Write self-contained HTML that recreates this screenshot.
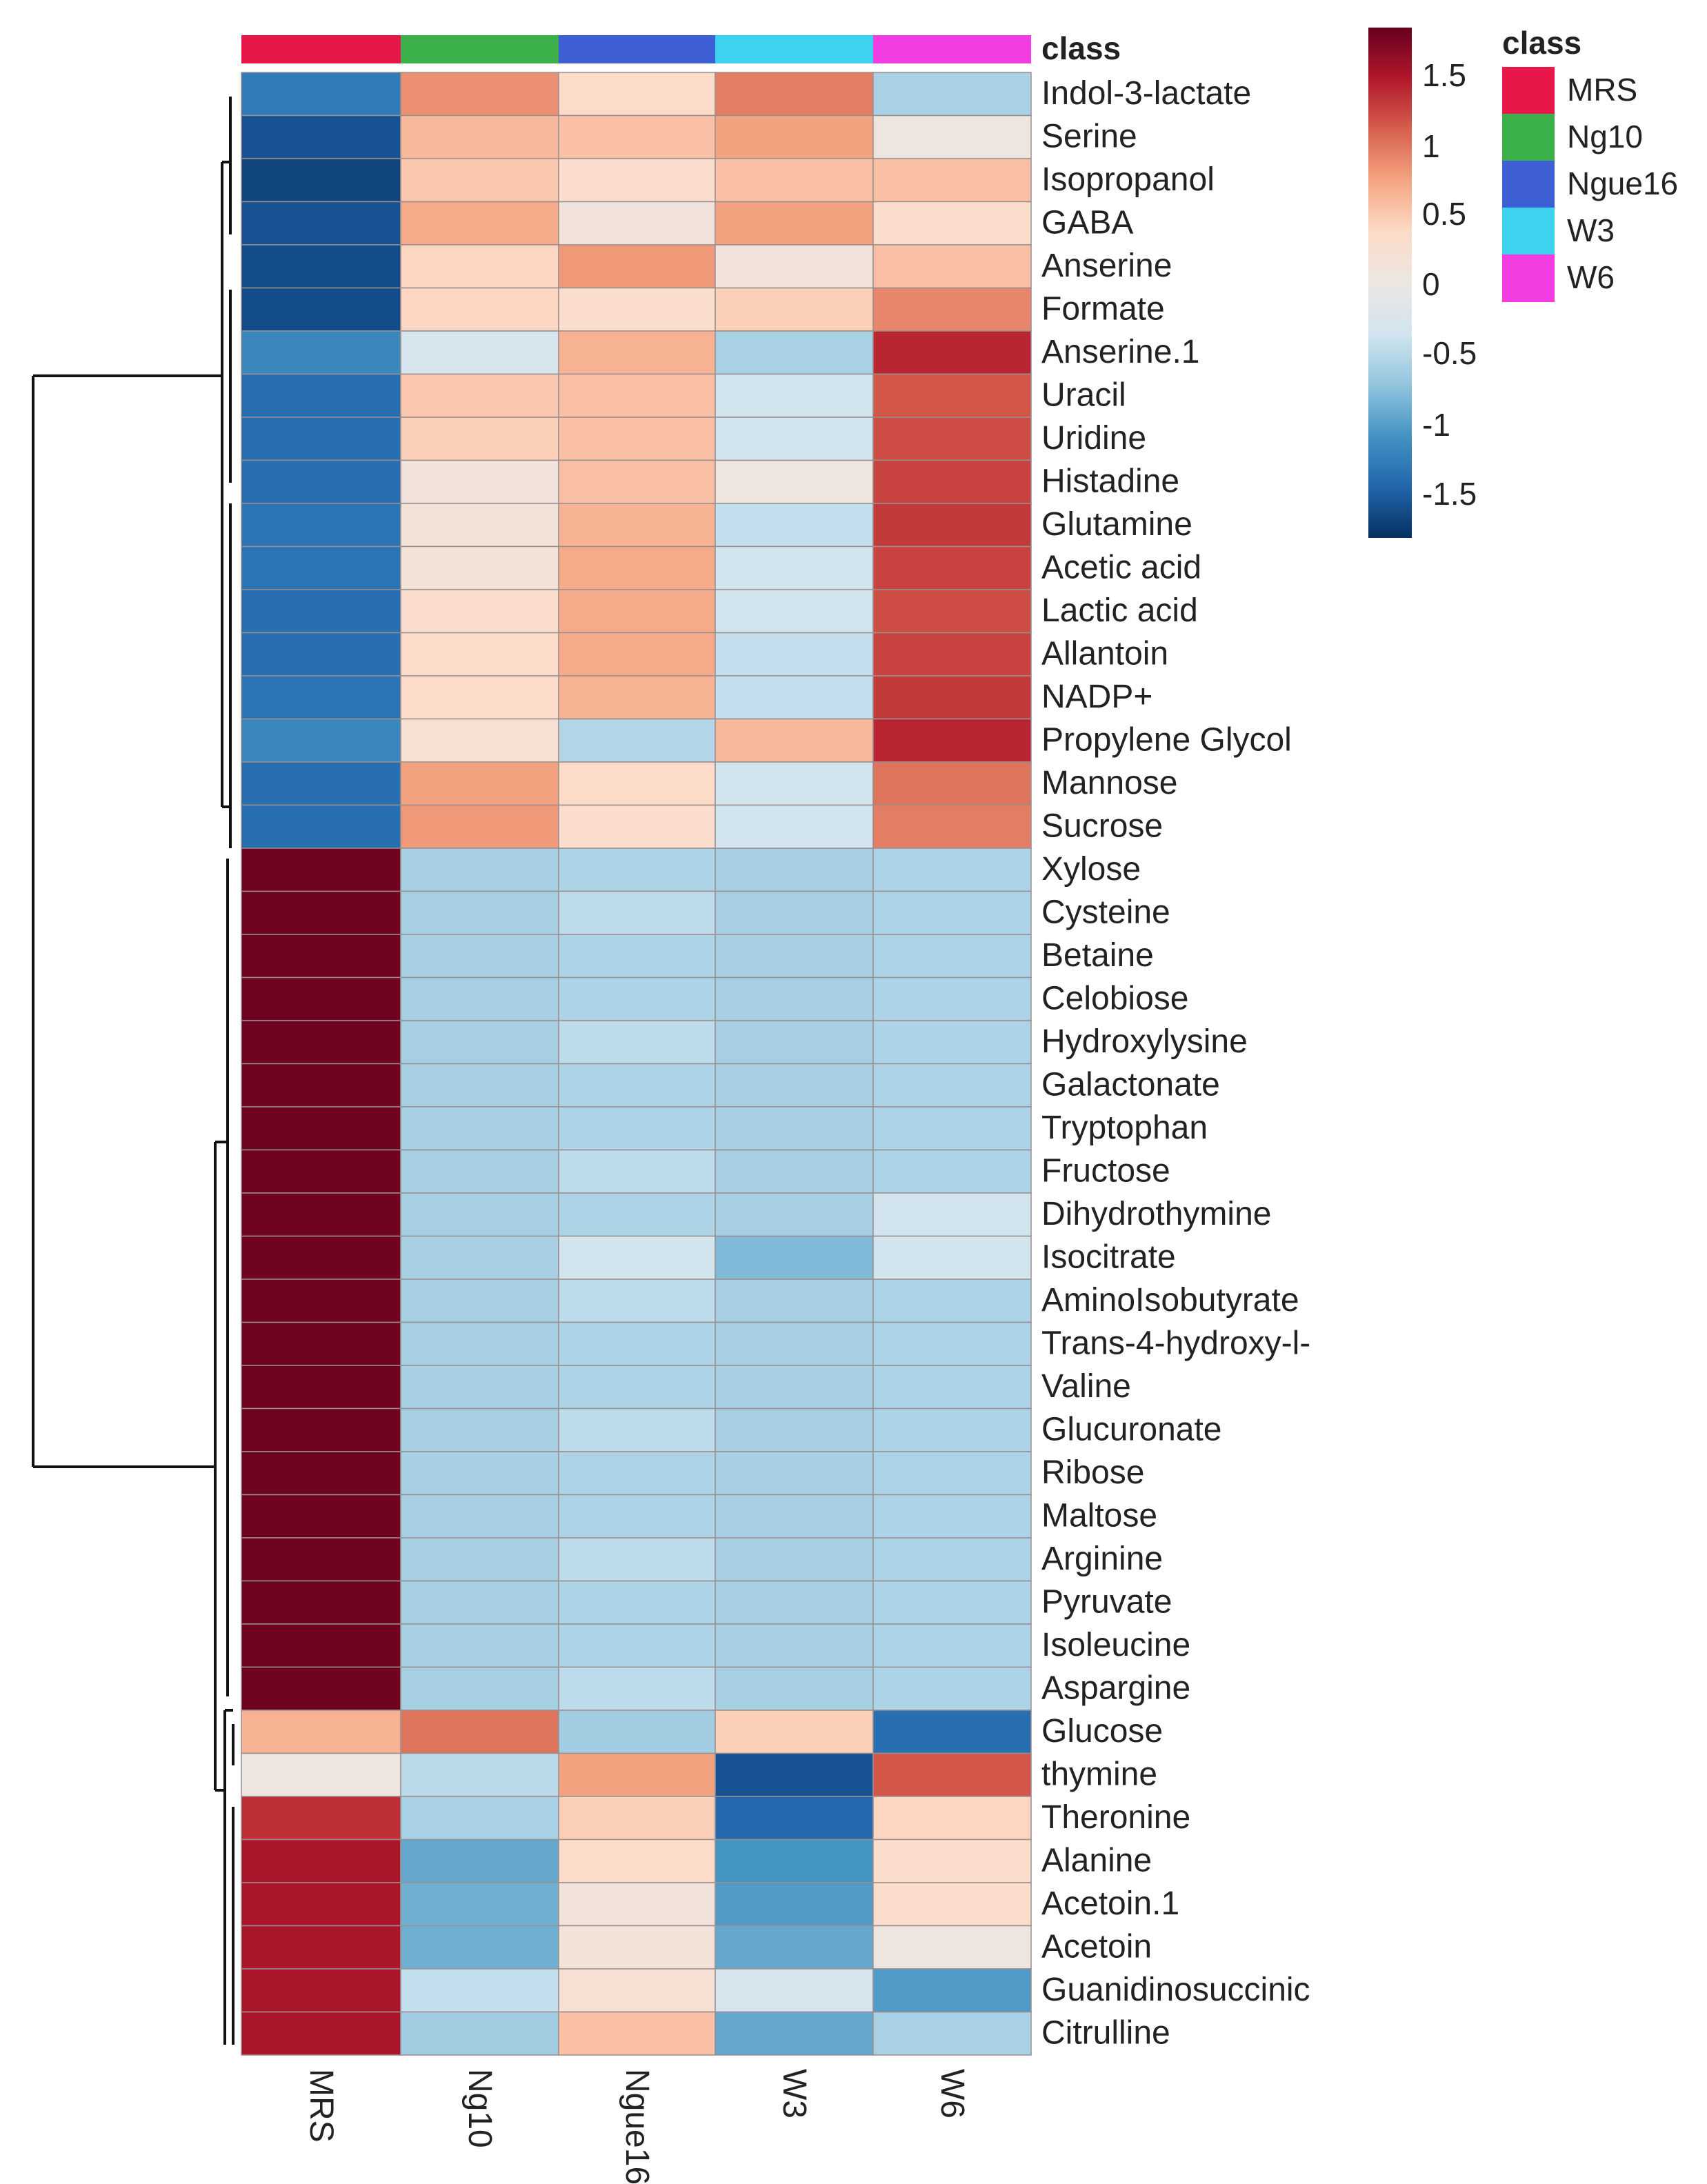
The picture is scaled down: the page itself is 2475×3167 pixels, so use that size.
<!DOCTYPE html>
<html><head><meta charset="utf-8"><style>
html,body{margin:0;padding:0;background:#fff;}
svg{display:block;font-family:"Liberation Sans",sans-serif;}
.rl{font-size:48px;fill:#222;}
</style></head><body>
<svg id="s" width="2475" height="3167" viewBox="0 0 2475 3167">
<defs>
<linearGradient id="cb" x1="0" y1="1" x2="0" y2="0">
<stop offset="0" stop-color="#053061"/><stop offset="0.1" stop-color="#2166ac"/><stop offset="0.2" stop-color="#4393c3"/><stop offset="0.3" stop-color="#92c5de"/><stop offset="0.4" stop-color="#d1e5f0"/><stop offset="0.5" stop-color="#ece6e2"/><stop offset="0.6" stop-color="#fddbc7"/><stop offset="0.7" stop-color="#f4a582"/><stop offset="0.8" stop-color="#d6604d"/><stop offset="0.9" stop-color="#b2182b"/><stop offset="1" stop-color="#67001f"/>
</linearGradient>
</defs>
<rect x="350" y="51" width="231" height="41" fill="#e8174a"/>
<rect x="581" y="51" width="229" height="41" fill="#3cb04a"/>
<rect x="810" y="51" width="227" height="41" fill="#3f5fd4"/>
<rect x="1037" y="51" width="229" height="41" fill="#3dd3f0"/>
<rect x="1266" y="51" width="229" height="41" fill="#f03ce0"/>
<text x="1510" y="86" font-size="46" font-weight="bold" fill="#222">class</text>
<g id="cells"></g>
<g class="rl">
<text x="1510" y="151">Indol-3-lactate</text>
<text x="1510" y="213.5">Serine</text>
<text x="1510" y="276">Isopropanol</text>
<text x="1510" y="338.5">GABA</text>
<text x="1510" y="401">Anserine</text>
<text x="1510" y="463.5">Formate</text>
<text x="1510" y="526">Anserine.1</text>
<text x="1510" y="588.5">Uracil</text>
<text x="1510" y="651">Uridine</text>
<text x="1510" y="713.5">Histadine</text>
<text x="1510" y="776">Glutamine</text>
<text x="1510" y="838.5">Acetic acid</text>
<text x="1510" y="901">Lactic acid</text>
<text x="1510" y="963.5">Allantoin</text>
<text x="1510" y="1026">NADP+</text>
<text x="1510" y="1088.5">Propylene Glycol</text>
<text x="1510" y="1151">Mannose</text>
<text x="1510" y="1213.5">Sucrose</text>
<text x="1510" y="1276">Xylose</text>
<text x="1510" y="1338.5">Cysteine</text>
<text x="1510" y="1401">Betaine</text>
<text x="1510" y="1463.5">Celobiose</text>
<text x="1510" y="1526">Hydroxylysine</text>
<text x="1510" y="1588.5">Galactonate</text>
<text x="1510" y="1651">Tryptophan</text>
<text x="1510" y="1713.5">Fructose</text>
<text x="1510" y="1776">Dihydrothymine</text>
<text x="1510" y="1838.5">Isocitrate</text>
<text x="1510" y="1901">AminoIsobutyrate</text>
<text x="1510" y="1963.5">Trans-4-hydroxy-l-</text>
<text x="1510" y="2026">Valine</text>
<text x="1510" y="2088.5">Glucuronate</text>
<text x="1510" y="2151">Ribose</text>
<text x="1510" y="2213.5">Maltose</text>
<text x="1510" y="2276">Arginine</text>
<text x="1510" y="2338.5">Pyruvate</text>
<text x="1510" y="2401">Isoleucine</text>
<text x="1510" y="2463.5">Aspargine</text>
<text x="1510" y="2526">Glucose</text>
<text x="1510" y="2588.5">thymine</text>
<text x="1510" y="2651">Theronine</text>
<text x="1510" y="2713.5">Alanine</text>
<text x="1510" y="2776">Acetoin.1</text>
<text x="1510" y="2838.5">Acetoin</text>
<text x="1510" y="2901">Guanidinosuccinic</text>
<text x="1510" y="2963.5">Citrulline</text>
</g>
<g font-size="48" fill="#222">
<text transform="translate(450,3000) rotate(90)">MRS</text>
<text transform="translate(680,3000) rotate(90)">Ng10</text>
<text transform="translate(908,3000) rotate(90)">Ngue16</text>
<text transform="translate(1136,3000) rotate(90)">W3</text>
<text transform="translate(1365,3000) rotate(90)">W6</text>
</g>
<rect x="1984" y="40" width="63" height="740" fill="url(#cb)"/>
<g font-size="46" fill="#222">
<text x="2062" y="125">1.5</text>
<text x="2062" y="228">1</text>
<text x="2062" y="326">0.5</text>
<text x="2062" y="428">0</text>
<text x="2062" y="528">-0.5</text>
<text x="2062" y="632">-1</text>
<text x="2062" y="732">-1.5</text>
</g>
<text x="2178" y="78" font-size="46" font-weight="bold" fill="#222">class</text>
<rect x="2178" y="97" width="76" height="68" fill="#e8174a"/>
<rect x="2178" y="165" width="76" height="68" fill="#3cb04a"/>
<rect x="2178" y="233" width="76" height="68" fill="#3f5fd4"/>
<rect x="2178" y="301" width="76" height="68" fill="#3dd3f0"/>
<rect x="2178" y="369" width="76" height="69" fill="#f03ce0"/>
<g font-size="46" fill="#222">
<text x="2272" y="146">MRS</text>
<text x="2272" y="214">Ng10</text>
<text x="2272" y="282">Ngue16</text>
<text x="2272" y="350">W3</text>
<text x="2272" y="418">W6</text>
</g>
<g stroke="#111" stroke-width="4" fill="none">
<path d="M48 545 V2127 M48 545 H322 M48 2127 H312"/>
<path d="M322 235 V1170 M322 235 H334 M322 1170 H334"/>
<path d="M334 140 V340 M334 420 V700 M334 730 V1230"/>
<path d="M312 1656 V2596 M312 1656 H330 M312 2596 H326"/>
<path d="M330 1245 V2460 M326 2480 V2965 M326 2480 H338"/>
<path d="M338 2500 V2560 M338 2620 V2965"/>
</g>
</svg>
<script>
var V=[
[-1.3,.85,.35,.95,-.6],[-1.6,.6,.55,.75,.05],[-1.7,.5,.3,.55,.55],[-1.6,.7,.1,.75,.3],[-1.65,.4,.8,.1,.55],[-1.65,.4,.3,.45,.9],
[-1.2,-.3,.65,-.6,1.4],[-1.4,.5,.55,-.35,1.15],[-1.4,.45,.55,-.35,1.2],[-1.4,.1,.55,.05,1.25],[-1.35,.15,.65,-.45,1.3],[-1.35,.15,.7,-.35,1.25],
[-1.4,.3,.7,-.35,1.2],[-1.4,.35,.7,-.45,1.25],[-1.35,.35,.65,-.45,1.3],[-1.2,.2,-.55,.6,1.4],[-1.4,.75,.35,-.35,1],[-1.4,.8,.3,-.35,.95]];
for(var i=0;i<20;i++){var r=[1.8,-.62,-.58,-.62,-.58];if(i%3==1)r[2]=-.48;V.push(r);}
V[27]=[1.8,-.62,-.35,-.82,-.35];V[26][4]=-.35;
V=V.concat([[.65,1,-.65,.45,-1.4],[.05,-.5,.75,-1.6,1.15],[1.35,-.6,.45,-1.45,.4],[1.5,-.95,.35,-1.1,.3],[1.5,-.9,.1,-1.05,.3],[1.5,-.9,.15,-.95,.05],[1.5,-.45,.2,-.3,-1.05],[1.5,-.65,.55,-.95,-.6]]);
var P=[[5,48,97],[33,102,172],[67,147,195],[146,197,222],[209,229,240],[236,230,226],[253,219,199],[244,165,130],[214,96,77],[178,24,43],[103,0,31]];
function col(v){var t=(v+1.84)/3.68*10;if(t<0)t=0;if(t>10)t=10;var i=Math.min(9,Math.floor(t)),f=t-i,a=P[i],b=P[i+1];
return 'rgb('+[0,1,2].map(function(k){return Math.round(a[k]+(b[k]-a[k])*f)}).join(',')+')';}
var X=[350,581,810,1037,1266,1495],h='',RH=62.5;
for(var r=0;r<V.length;r++)for(var c=0;c<5;c++){var y=105+r*RH;
h+='<rect x="'+X[c]+'" y="'+y.toFixed(1)+'" width="'+(X[c+1]-X[c])+'" height="'+RH+'" fill="'+col(V[r][c])+'" stroke="#9a8f8f" stroke-width="1.5"/>';}
document.getElementById('cells').innerHTML=h;
</script>
</body></html>
